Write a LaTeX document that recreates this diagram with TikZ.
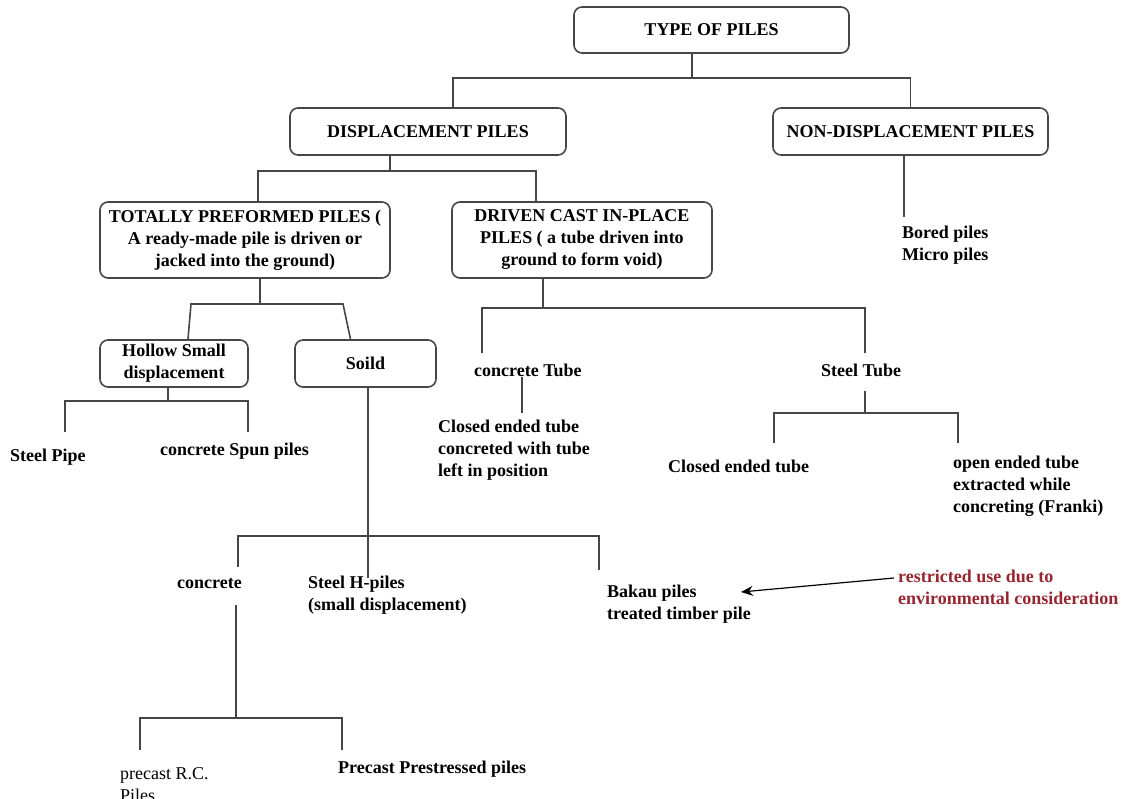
\documentclass[tikz,border=0pt]{standalone}
\usepackage{fontspec}
\setmainfont{Liberation Serif}
\usepackage{tikz}
\usetikzlibrary{positioning, arrows.meta}
\usepackage{xcolor}
\definecolor{linegray}{RGB}{70,70,70}
\definecolor{warnred}{RGB}{150,38,48}

\begin{document}
\begin{tikzpicture}[
			% GLOBAL CFG
			x=1pt, y=-1pt,
			font=\bfseries\fontsize{18}{22}\selectfont,
			>={Stealth[length=12pt,width=10pt,inset=4pt]},
			% Styles
			pilebox/.style={% For the boxed pile types
				rectangle,
				rounded corners=8pt,
				draw=linegray,
				line width=1.6pt,
				align=center,
				inner sep=2pt,
			},
			leaf/.style={% For the plain texts under the boxes (base = last line)
				anchor=base west,
				align=left,
				inner sep=0pt,
			},
			note/.style={% For the red remark
				leaf,
				text=warnred,
			},
			Link/.style={% Tree connectors
				draw=linegray,
				line width=1.6pt,
			},
			ArrowR/.style={% Arrow of the remark
				->,
				line width=1.2pt,
			},
			]
			\useasboundingbox (0,0) rectangle (1125,799);
			
			% Draw the boxes
			\node [pilebox, minimum width=275pt, minimum height=46pt] (type) at (711.5,30) {TYPE OF PILES};
			\node [pilebox, minimum width=276pt, minimum height=47pt] (disp) at (428,131.5) {DISPLACEMENT PILES};
			\node [pilebox, minimum width=275pt, minimum height=47pt] (nondisp) at (910.5,131.5) {NON-DISPLACEMENT PILES};
			\node [pilebox, minimum width=290pt, minimum height=76pt] (totally) at (245,240) {TOTALLY PREFORMED PILES (\\A ready-made pile is driven or\\jacked into the ground)};
			\node [pilebox, minimum width=260pt, minimum height=76pt] (driven) at (582,240) {DRIVEN CAST IN-PLACE\\PILES ( a tube driven into\\ground to form void)};
			\node [pilebox, minimum width=148pt, minimum height=47pt] (hollow) at (174,363.5) {Hollow Small\\displacement};
			\node [pilebox, minimum width=141pt, minimum height=47pt] (soild) at (365.5,363.5) {Soild};
			
			% Draw the plain texts
			\node [leaf] (bored) at (902,261) {Bored piles\\Micro piles};
			\node [leaf] (steelpipe) at (10,462) {Steel Pipe};
			\node [leaf] (spun) at (160,456) {concrete Spun piles};
			\node [leaf] (ctube) at (474,377) {concrete Tube};
			\node [leaf] (stube) at (821,377) {Steel Tube};
			\node [leaf] (closedleft) at (438,477) {Closed ended tube\\concreted with tube\\left in position};
			\node [leaf] (closedright) at (668,472) {Closed ended tube};
			\node [leaf] (open) at (953,512) {open ended tube\\extracted while\\concreting (Franki)};
			\node [leaf] (concrete) at (177,588) {concrete};
			\node [leaf] (hpile) at (308,610) {Steel H-piles\\(small displacement)};
			\node [leaf] (bakau) at (607,619) {Bakau piles\\treated timber pile};
			\node [note] (remark) at (898,604) {restricted use due to\\environmental consideration};
			\node [leaf, font=\mdseries\fontsize{18}{22}\selectfont] (precastrc) at (120,801) {precast R.C.\\Piles};
			\node [leaf] (prestressed) at (338,773) {Precast Prestressed piles};
			
			% Junctions and free ends
			\coordinate (tj) at (692,78);
			\coordinate (dj) at (390,171);
			\coordinate (boredtop) at (904,217);
			\coordinate (pj) at (260,304);
			\coordinate (pjl) at (191,304);
			\coordinate (pjr) at (343,304);
			\coordinate (cj) at (543,308);
			\coordinate (ctubetop) at (482,353);
			\coordinate (stubetop) at (865,353);
			\coordinate (ctubeend) at (522,413);
			\coordinate (sj) at (865,413);
			\coordinate (closedtop) at (774,443);
			\coordinate (opentop) at (958,443);
			\coordinate (hj) at (168,401);
			\coordinate (pipetop) at (65,432);
			\coordinate (spuntop) at (248,432);
			\coordinate (sdj) at (368,536);
			\coordinate (hpiletop) at (368,578);
			\coordinate (concretetop) at (238,567);
			\coordinate (bakautop) at (599,570);
			\coordinate (rj) at (236,718);
			\coordinate (rctop) at (140,750);
			\coordinate (prestop) at (342,750);
			\coordinate (bakautip) at (741,592);
			
			% Drawing connectors
			\draw [Link] (type.south -| tj) -- (tj);
			\draw [Link] ([xshift=25pt]disp.north) |- (tj) -| (nondisp.north);
			\draw [Link] (nondisp.south -| boredtop) -- (boredtop);
			\draw [Link] (disp.south -| dj) -- (dj);
			\draw [Link] ([xshift=13pt]totally.north) |- (dj) -| ([xshift=-46pt]driven.north);
			\draw [Link] (totally.south -| pj) -- (pj);
			\draw [Link] ([xshift=14pt]hollow.north) -- (pjl) -- (pjr) -- ([xshift=-15pt]soild.north);
			\draw [Link] (driven.south -| cj) -- (cj);
			\draw [Link] (ctubetop) |- (cj) -| (stubetop);
			\draw [Link] (ctube.south -| ctubeend) -- (ctubeend);
			\draw [Link] ([yshift=-14pt]stube.south -| sj) -- (sj);
			\draw [Link] (closedtop) |- (sj) -| (opentop);
			\draw [Link] (hollow.south -| hj) -- (hj);
			\draw [Link] (pipetop) |- (hj) -| (spuntop);
			\draw [Link] (soild.south -| sdj) -- (hpiletop);
			\draw [Link] (concretetop) |- (sdj) -| (bakautop);
			\draw [Link] ([yshift=-17pt]concrete.south -| rj) -- (rj);
			\draw [Link] (rctop) |- (rj) -| (prestop);
			\draw [ArrowR] ([xshift=-4pt,yshift=26pt]remark.base west) -- (bakautip);
			
		\end{tikzpicture}
\end{document}
